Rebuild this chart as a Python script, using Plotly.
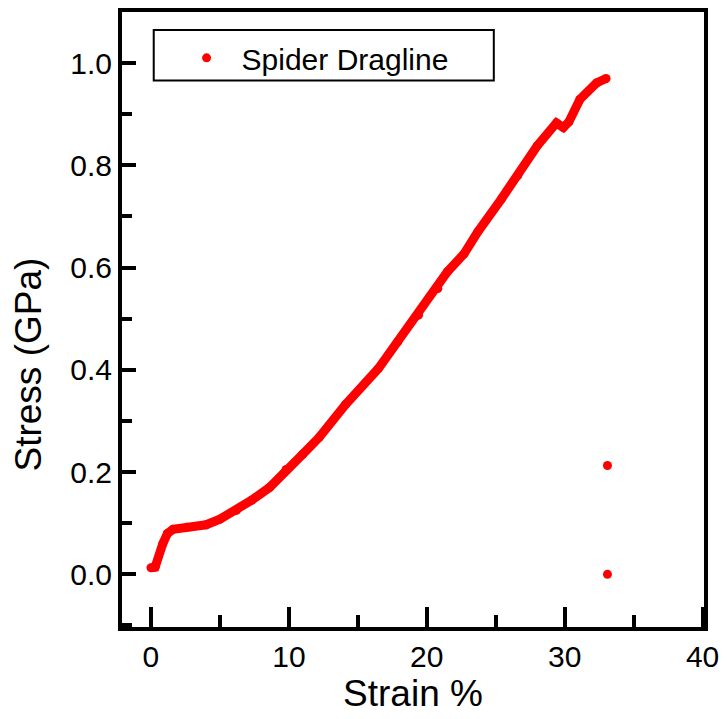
import plotly.graph_objects as go

# Stress-strain curve of spider dragline
strain = [0.0, 0.3, 0.86, 1.2, 1.6, 2.6, 4.0, 5.0, 6.2, 7.3, 8.6, 9.8, 11.0, 12.2,
          14.1, 16.5, 17.9, 19.4, 20.8, 21.5, 22.7, 23.7, 25.4, 26.6, 28.0, 29.4,
          29.9, 30.3, 31.1, 32.3, 33.0]
stress = [0.013, 0.014, 0.060, 0.080, 0.088, 0.092, 0.097, 0.108, 0.125, 0.145, 0.170,
          0.205, 0.235, 0.268, 0.332, 0.403, 0.455, 0.507, 0.559, 0.592, 0.627, 0.670,
          0.734, 0.780, 0.838, 0.883, 0.874, 0.885, 0.929, 0.961, 0.970]
# isolated points after failure
strain_pts = [33.1, 33.1]
stress_pts = [0.213, 0.0]

x_ticks = [0, 10, 20, 30, 40]
y_ticks = [0.0, 0.2, 0.4, 0.6, 0.8, 1.0]
y_tick_text = ["0.0", "0.2", "0.4", "0.6", "0.8", "1.0"]

RED = "#FF0000"
FONT = "Liberation Sans, Arial, sans-serif"

W, H = 727, 719
L, R, T, B = 122, 18, 8, 92
PW, PH = W - L - R, H - T - B

def px(xp):
    return (xp - L) / PW

def py(yp):
    return (H - B - yp) / PH

fig = go.Figure()
fig.add_trace(go.Scatter(
    x=strain, y=stress, mode="lines+markers",
    line=dict(color=RED, width=9),
    marker=dict(color=RED, size=9),
    showlegend=False, hoverinfo="skip",
))
fig.add_trace(go.Scatter(
    x=strain_pts, y=stress_pts, mode="markers",
    marker=dict(color=RED, size=9),
    name="Spider Dragline", showlegend=True,
))

axis_common = dict(
    showline=True, linewidth=4, linecolor="black", mirror=True,
    showgrid=False, zeroline=False, ticks="inside", tickwidth=4,
    tickcolor="black", tickfont=dict(family=FONT, size=30, color="black"),
)

fig.update_xaxes(
    range=[-2.1, 40.1], tickvals=x_ticks, ticklen=20,
    minor=dict(ticks="inside", dtick=5, tick0=0, ticklen=12, tickwidth=4, tickcolor="black"),
    title=dict(text="Strain %", font=dict(family=FONT, size=37, color="black"), standoff=4),
    **axis_common,
)
fig.update_yaxes(
    range=[-0.103, 1.10], tickvals=y_ticks, ticktext=y_tick_text, ticklen=14,
    minor=dict(ticks="inside", dtick=0.1, tick0=0, ticklen=10, tickwidth=4, tickcolor="black"),
    **axis_common,
)

# legend frame
fig.add_shape(type="rect", xref="paper", yref="paper",
              x0=px(154), x1=px(497), y0=py(77), y1=py(26),
              line=dict(color="black", width=2), fillcolor="rgba(0,0,0,0)")

fig.add_annotation(text="Stress (GPa)", xref="paper", yref="paper",
                   x=px(28), y=py(363), textangle=-90, showarrow=False,
                   font=dict(family=FONT, size=37, color="black"),
                   xanchor="center", yanchor="middle")

fig.update_layout(
    width=W, height=H,
    margin=dict(l=L, r=R, t=T, b=B),
    paper_bgcolor="white", plot_bgcolor="white",
    legend=dict(x=px(172), y=py(28), xanchor="left", yanchor="top",
                bgcolor="rgba(0,0,0,0)", borderwidth=0,
                font=dict(family=FONT, size=30, color="black"), itemwidth=60),
)

fig.write_html("out.html")
